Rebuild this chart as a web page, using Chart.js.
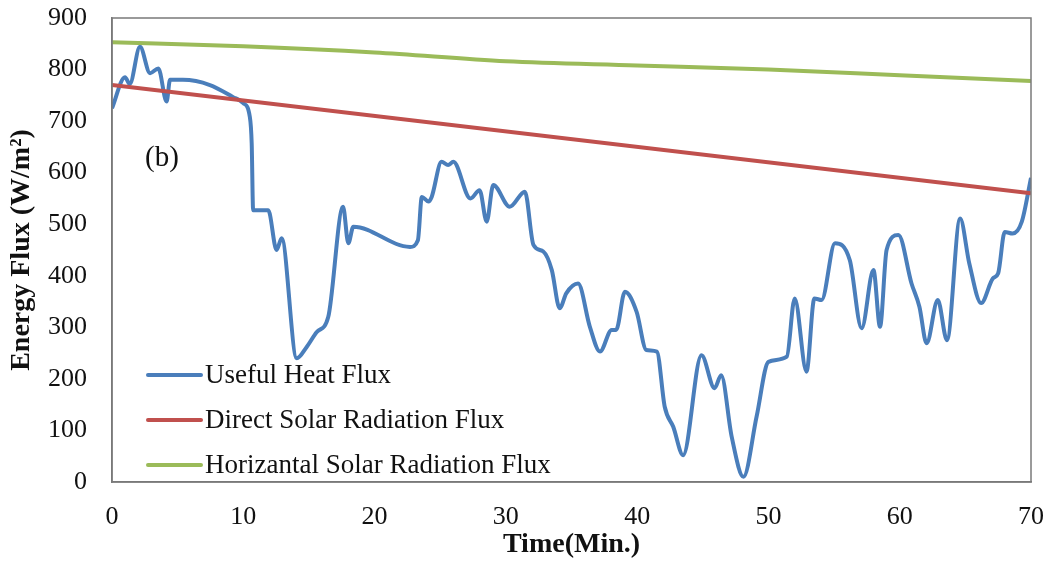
<!DOCTYPE html>
<html>
<head>
<meta charset="utf-8">
<script src="https://cdn.jsdelivr.net/npm/chart.js@4.4.1/dist/chart.umd.min.js"></script>
<style>
html,body{margin:0;padding:0;background:#fff;}
#wrap{width:1049px;height:568px;position:relative;}
</style>
</head>
<body>
<div id="wrap"><canvas id="c" width="1049" height="568"></canvas></div>
<script>
// ---- data ----
const seriesLabels = ["Useful Heat Flux", "Direct Solar Radiation Flux", "Horizantal Solar Radiation Flux"];
const usefulTime = [0,0.99,1.35,2.13,2.9,3.53,4.16,4.42,5.4,7.46,9.2,10,10.5,10.64,10.75,11.9,12.54,12.92,14.07,14.83,15.6,16.47,17.6,18.0,18.38,22.7,23.3,23.6,24.1,24.35,25.1,25.6,26.0,27.3,28.0,28.54,29.04,30.3,31.45,32.1,32.85,33.5,34.1,34.6,35.5,36.4,37.17,38.06,38.4,39.07,39.96,40.7,41.5,42.1,42.75,43.5,44.9,45.9,46.4,47.2,48.1,49.1,50.0,51.4,52.0,52.9,53.5,54.05,55.07,56.2,57.1,58.0,58.5,59.0,59.9,60.9,61.5,62.05,62.9,63.6,64.6,65.3,66.2,67.1,67.5,68.0,68.6,69.3,70];
const usefulFlux = [725,785,772,844,793,802,738,780,780,770,747,735,708,657,527,527,450,473,240,262,291,320,534,463,495,456,469,553,544,553,621,615,621,550,566,505,576,534,563,460,447,411,337,366,385,301,253,295,295,369,330,256,253,146,107,52,246,182,207,88,10,127,233,243,356,214,356,353,463,430,298,411,301,450,479,385,340,269,353,275,511,424,347,395,405,485,482,505,590];
const directTime = [0, 70];
const directFlux = [770, 560];
const horizTime = [0,10,20,30,40,50,60,70];
const horizFlux = [853,845,833,816,808,800,789,778];
const xTicks = [0,10,20,30,40,50,60,70];
const yTicks = [0,100,200,300,400,500,600,700,800,900];
const panelLabel = "(b)";
const xTitle = "Time(Min.)";
const yTitle = "Energy Flux (W/m\u00B2)";

function pts(xs, ys){ return xs.map((x,i)=>({x:x, y:ys[i]})); }

const colors = ['#4A7EBB', '#C0504D', '#9BBB59'];
const SERIF = '"Liberation Serif", "Times New Roman", serif';

const frameAndLegend = {
  id: 'frameAndLegend',
  afterDatasetsDraw(chart){
    const {ctx, chartArea:a} = chart;
    ctx.save();
    ctx.strokeStyle = '#7a7a7a';
    ctx.lineWidth = 1.5;
    ctx.strokeRect(a.left, a.top, a.right - a.left, a.bottom - a.top);
    // panel label
    ctx.fillStyle = '#111';
    ctx.font = '29px ' + SERIF;
    ctx.textBaseline = 'middle';
    ctx.textAlign = 'left';
    ctx.fillText(panelLabel, 145, 158);
    // legend
    ctx.font = '27px ' + SERIF;
    const rows = [375, 420, 465];
    chart.data.datasets.forEach((ds, i) => {
      const y = rows[i];
      ctx.strokeStyle = ds.borderColor;
      ctx.lineWidth = 4;
      ctx.lineCap = 'round';
      ctx.beginPath();
      ctx.moveTo(148, y);
      ctx.lineTo(201, y);
      ctx.stroke();
      ctx.fillStyle = '#111';
      ctx.fillText(ds.label, 205, y + 1);
    });
    ctx.restore();
  }
};

new Chart(document.getElementById('c'), {
  type: 'scatter',
  data: {
    datasets: [
      {label: seriesLabels[0], data: pts(usefulTime, usefulFlux), borderColor: colors[0], backgroundColor: colors[0], borderWidth: 4, showLine: true, pointRadius: 0, cubicInterpolationMode: 'monotone', order: 3},
      {label: seriesLabels[1], data: pts(directTime, directFlux), borderColor: colors[1], backgroundColor: colors[1], borderWidth: 4, showLine: true, pointRadius: 0, order: 2},
      {label: seriesLabels[2], data: pts(horizTime, horizFlux), borderColor: colors[2], backgroundColor: colors[2], borderWidth: 4, showLine: true, pointRadius: 0, cubicInterpolationMode: 'monotone', order: 1}
    ]
  },
  options: {
    responsive: false,
    animation: false,
    layout: {padding: {top: 18, right: 18, left: 0, bottom: 0}},
    plugins: {legend: {display: false}, tooltip: {enabled: false}},
    scales: {
      x: {
        type: 'linear', min: 0, max: 70,
        afterBuildTicks(s){ s.ticks = xTicks.map(v => ({value: v})); },
        afterFit(s){ s.height = 86; s.paddingRight = 0; s.paddingLeft = 0; },
        grid: {display: false, drawTicks: false},
        border: {display: true, color: '#7a7a7a', width: 1.5},
        ticks: {color: '#111', font: {family: SERIF, size: 26}, padding: 20, maxRotation: 0},
        title: {display: true, text: xTitle, color: '#111', font: {family: SERIF, size: 28, weight: 'bold'}, padding: {top: 0, bottom: 6}}
      },
      y: {
        type: 'linear', min: 0, max: 900,
        afterBuildTicks(s){ s.ticks = yTicks.map(v => ({value: v})); },
        afterFit(s){ s.width = 112; s.paddingTop = 0; s.paddingBottom = 0; },
        grid: {display: false, drawTicks: false},
        border: {display: true, color: '#7a7a7a', width: 1.5},
        ticks: {color: '#111', font: {family: SERIF, size: 26}, padding: 25},
        title: {display: true, text: yTitle, color: '#111', font: {family: SERIF, size: 28, weight: 'bold'}, padding: {top: 5, bottom: 0}}
      }
    }
  },
  plugins: [frameAndLegend]
});
</script>
</body>
</html>
